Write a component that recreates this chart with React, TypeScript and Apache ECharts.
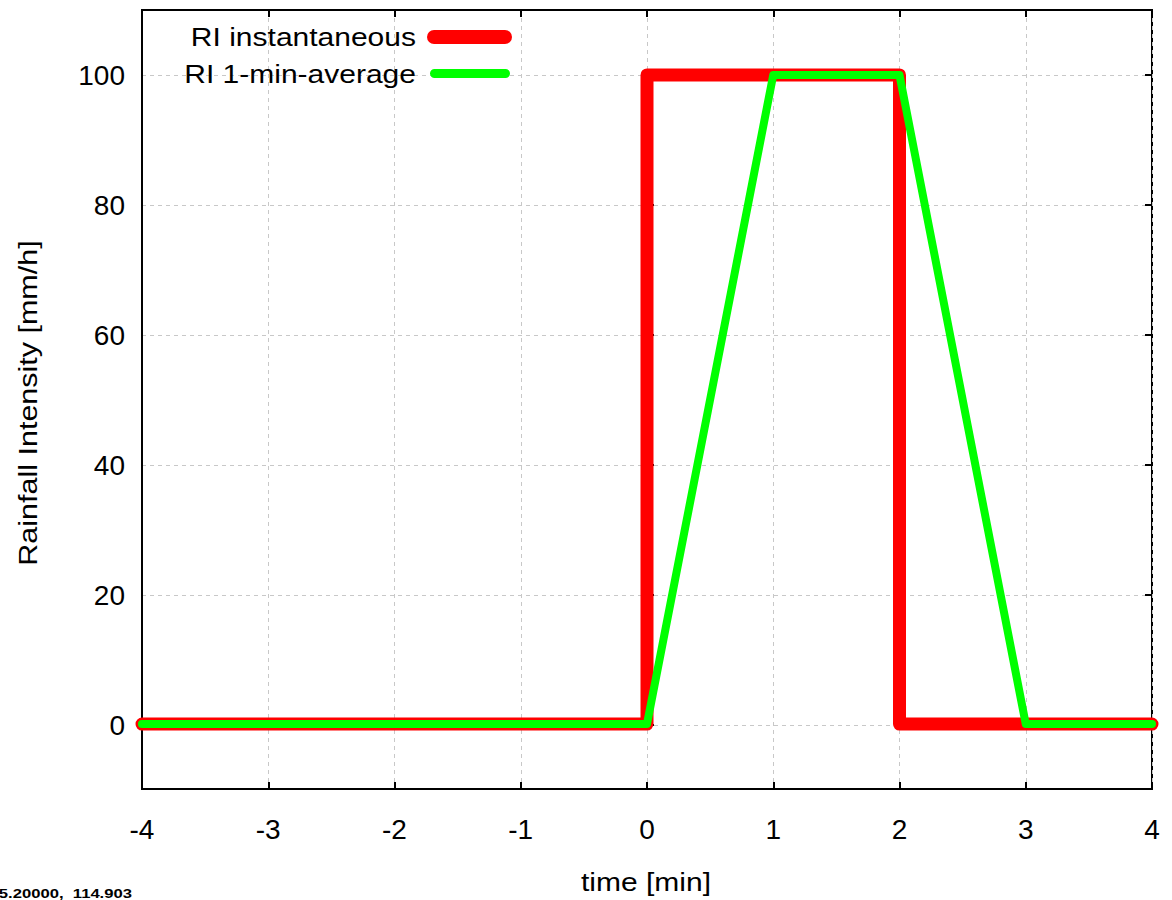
import React, { useEffect, useRef } from "react";
import * as echarts from "echarts";

const xTicks = [-4, -3, -2, -1, 0, 1, 2, 3, 4];
const yTicks = [0, 20, 40, 60, 80, 100];
const instTime = [-4, 0, 0, 0, 2, 2, 2, 4];
const instValue = [0, 0, 50, 100, 100, 50, 0, 0];
const avgTime = [-4, 0, 1, 2, 3, 4];
const avgValue = [0, 0, 100, 100, 0, 0];
const seriesNames = ["RI instantaneous", "RI 1-min-average"];
const xTitle = "time [min]";
const yTitle = "Rainfall Intensity [mm/h]";
const cornerText = "5.20000,  114.903";

const FONT = "'Liberation Sans', Arial, sans-serif";

export default function App() {
  const ref = useRef<HTMLDivElement>(null);
  useEffect(() => {
    if (!ref.current) return;
    const chart = echarts.init(ref.current, null, { renderer: "svg" });
    const xMin = xTicks[0];
    const xMax = xTicks[xTicks.length - 1];
    const yStep = yTicks[1] - yTicks[0];
    const grid = { color: "#c8c8c8", type: [4, 4] as any, width: 1 };
    const option: any = {
      animation: false,
      backgroundColor: "#ffffff",
      textStyle: { fontFamily: FONT },
      grid: [
        { left: 142, right: 20, top: 10, bottom: 111, show: true, borderColor: "#000", borderWidth: 2, backgroundColor: "transparent" },
        { left: 142, right: 20, top: 75, bottom: 175, show: false },
      ],
      xAxis: [
        {
          gridIndex: 0, type: "value", position: "bottom", min: xMin, max: xMax, interval: 1,
          axisLine: { show: true, onZero: false, lineStyle: { color: "#000", width: 2 } },
          axisTick: { show: true, inside: true, length: 7, lineStyle: { color: "#000", width: 2 } },
          axisLabel: { color: "#000", fontSize: 28, margin: 26, fontFamily: FONT },
          splitLine: { show: true, lineStyle: grid },
        },
        {
          gridIndex: 0, type: "value", position: "top", min: xMin, max: xMax, interval: 1,
          axisLine: { show: true, onZero: false, lineStyle: { color: "#000", width: 2 } },
          axisTick: { show: true, inside: true, length: 7, lineStyle: { color: "#000", width: 2 } },
          axisLabel: { show: false },
          splitLine: { show: false },
        },
        {
          gridIndex: 1, type: "value", min: xMin, max: xMax, show: false,
        },
      ],
      yAxis: [
        {
          gridIndex: 0, type: "value", min: -10, max: 110,
          axisLine: { show: true, onZero: false, lineStyle: { color: "#000", width: 2 } },
          axisTick: { show: false }, axisLabel: { show: false }, splitLine: { show: false },
        },
        {
          gridIndex: 1, type: "value", position: "left", min: yTicks[0], max: yTicks[yTicks.length - 1], interval: yStep,
          axisLine: { show: false },
          axisTick: { show: true, inside: true, length: 7, lineStyle: { color: "#000", width: 2 } },
          axisLabel: { color: "#000", fontSize: 28, margin: 17, fontFamily: FONT },
          splitLine: { show: true, lineStyle: grid },
        },
        {
          gridIndex: 1, type: "value", position: "right", min: yTicks[0], max: yTicks[yTicks.length - 1], interval: yStep,
          axisLine: { show: false },
          axisTick: { show: true, inside: true, length: 7, lineStyle: { color: "#000", width: 2 } },
          axisLabel: { show: false },
          splitLine: { show: false },
        },
      ],
      series: [
        {
          name: seriesNames[0], type: "line", xAxisIndex: 0, yAxisIndex: 0,
          data: instTime.map((t, i) => [t, instValue[i]]),
          showSymbol: false, symbol: "none", clip: false,
          lineStyle: { color: "#ff0000", width: 13, cap: "round", join: "round" },
          z: 3,
        },
        {
          name: seriesNames[1], type: "line", xAxisIndex: 0, yAxisIndex: 0,
          data: avgTime.map((t, i) => [t, avgValue[i]]),
          showSymbol: false, symbol: "none", clip: false,
          lineStyle: { color: "#00ff00", width: 8, cap: "round", join: "round" },
          z: 4,
        },
      ],
      graphic: [
        { type: "text", x: 416, y: 37, z: 10, scaleX: 1.2, style: { text: seriesNames[0], align: "right", verticalAlign: "middle", fontSize: 25, fontFamily: FONT, fill: "#000" } },
        { type: "rect", x: 427, y: 30, z: 10, shape: { width: 85, height: 14, r: 7 }, style: { fill: "#ff0000" } },
        { type: "text", x: 416, y: 74, z: 10, scaleX: 1.2, style: { text: seriesNames[1], align: "right", verticalAlign: "middle", fontSize: 25, fontFamily: FONT, fill: "#000" } },
        { type: "rect", x: 430, y: 69, z: 10, shape: { width: 80, height: 9, r: 4.5 }, style: { fill: "#00ff00" } },
        { type: "text", x: 28, y: 403, rotation: Math.PI / 2, scaleX: 1.22, style: { text: yTitle, align: "center", verticalAlign: "middle", fontSize: 25, fontFamily: FONT, fill: "#000" } },
        { type: "text", x: 646, y: 882, scaleX: 1.2, style: { text: xTitle, align: "center", verticalAlign: "middle", fontSize: 25, fontFamily: FONT, fill: "#000" } },
        { type: "text", x: 132, y: 893, scaleX: 1.28, style: { text: cornerText, align: "right", verticalAlign: "middle", fontSize: 13, fontWeight: "bold", fontFamily: FONT, fill: "#000" } },
      ],
    };
    chart.setOption(option);
    return () => chart.dispose();
  }, []);
  return (
    <div
      ref={ref}
      style={{ position: "fixed", left: 0, top: 0, width: 1172, height: 900, background: "#fff" }}
    />
  );
}
